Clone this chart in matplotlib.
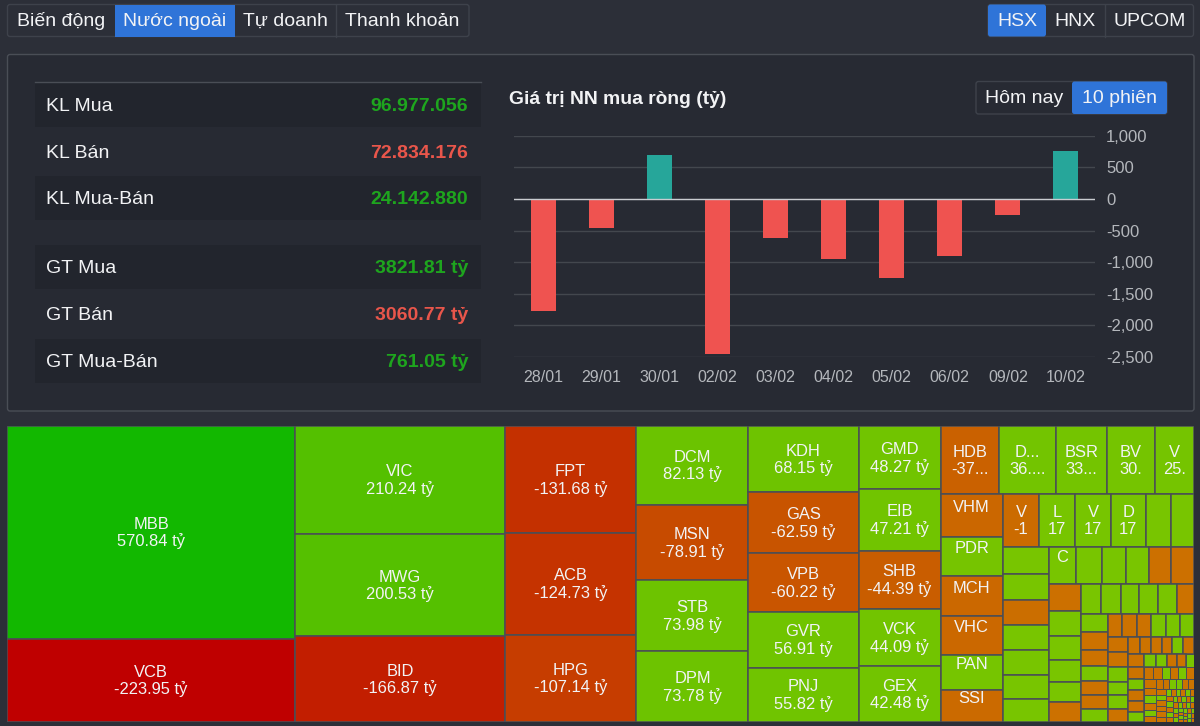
import numpy as np
import matplotlib
matplotlib.use("Agg")
import matplotlib.pyplot as plt
from matplotlib.patches import Rectangle, FancyBboxPatch
from matplotlib.colors import to_rgb

plt.rcParams['font.family'] = ['Liberation Sans', 'DejaVu Sans']

# ---------- data ----------
TABS = ["Biến động", "Nước ngoài", "Tự doanh", "Thanh khoản"]
EXCHANGES = ["HSX", "HNX", "UPCOM"]
RANGES = ["Hôm nay", "10 phiên"]

STAT_LABELS = ["KL Mua", "KL Bán", "KL Mua-Bán", "GT Mua", "GT Bán", "GT Mua-Bán"]
STAT_VALUES = ["96.977.056", "72.834.176", "24.142.880", "3821.81 tỷ", "3060.77 tỷ", "761.05 tỷ"]
STAT_SIGNS = [1, -1, 1, 1, -1, 1]

CHART_TITLE = "Giá trị NN mua ròng (tỷ)"
DATES = ["28/01", "29/01", "30/01", "02/02", "03/02", "04/02", "05/02", "06/02", "09/02", "10/02"]
NET_VALUES = [-1774, -458, 695, -2453, -621, -953, -1247, -910, -247, 761.05]
Y_TICKS = [1000, 500, 0, -500, -1000, -1500, -2000, -2500]

TM_VALUES = [
    570.84, -223.95,
    210.24, 200.53, -166.87,
    -131.68, -124.73, -107.14,
    82.13, -78.91, 73.98, 73.78,
    68.15, -62.59, -60.22, 56.91, 55.82,
    48.27, 47.21, -44.39, 44.09, 42.48,
    -37.0, 36.0, 33.0, 30.0, 25.0,
    -24.6, 23.0, -22.8, -22.4, 20.6, -18.4,
    -17.9, 17.6, 17.4, 17.1, 12.3, 11.3,
    11.5, 11.1, -10.9, 10.6, 10.6, 10.2, 9.8,
    9.7, 9.1, 8.4, 8.0, -7.9, -7.9,
    -8.0, 7.6, 7.2, 6.6, 6.2, -6.0,
    5.6, 5.3, 5.2, 5.1, 5.1, -4.8,
    4.5, -4.35, -4.0, 3.7, -3.55, -3.4, 3.35,
    -3.1, -3.05, -3.05, 3.0, 3.0, 3.0,
    -3.0, -2.85, 2.8, 2.65, 2.6, -2.5,
    -1.9, -1.85, -1.85, -1.8, 1.8, -1.8,
    -1.85, -1.8, 1.7, -1.65, -1.6, 1.5,
    1.4, 1.3, -1.25, -1.1, 0.9,
    -1.0, -0.95, 0.9, -0.88, 0.86, -0.83,
    -0.95, -0.85, 0.8, -0.75, 0.7, -0.65,
    -0.6, -0.58, 0.57, 0.56, -0.55, -0.54,
    -0.55, 0.53, -0.52, -0.51, -0.5, -0.48,
    0.34, -0.33, 0.33, -0.32, 0.32, -0.31,
    -0.33, 0.33, -0.32, 0.31, -0.31,
    0.27, -0.26, 0.26, -0.24, 0.24,
    -0.27, 0.26, -0.24, 0.24,
    0.22, -0.21, 0.2, -0.19,
    0.17, -0.16, 0.16, -0.15,
    0.18, -0.17, 0.16,
    -0.13, 0.12, -0.11,
    0.17, -0.16,
    0.14, -0.12,
]
TM_NAMES = ["MBB", "VCB", "VIC", "MWG", "BID", "FPT", "ACB", "HPG", "DCM", "MSN", "STB", "DPM",
            "KDH", "GAS", "VPB", "GVR", "PNJ", "GMD", "EIB", "SHB", "VCK", "GEX",
            "HDB", "D...", "BSR", "BV", "V", "VHM", "PDR", "MCH", "VHC", "PAN", "SSI",
            "V", "L", "V", "D", "", "", "", "", "", "", "", "", "", "C"]
TM_TEXTS = ["570.84 tỷ", "-223.95 tỷ", "210.24 tỷ", "200.53 tỷ", "-166.87 tỷ", "-131.68 tỷ",
            "-124.73 tỷ", "-107.14 tỷ", "82.13 tỷ", "-78.91 tỷ", "73.98 tỷ", "73.78 tỷ",
            "68.15 tỷ", "-62.59 tỷ", "-60.22 tỷ", "56.91 tỷ", "55.82 tỷ", "48.27 tỷ", "47.21 tỷ",
            "-44.39 tỷ", "44.09 tỷ", "42.48 tỷ", "-37...", "36....", "33...", "30.", "25.",
            "", "", "", "", "", "", "-1", "17", "17", "17"]
# strip orientation and number of cells of each squarified strip
TM_STRIPS = [('c', 2), ('c', 3), ('c', 3), ('c', 4), ('c', 5), ('c', 5), ('r', 5), ('c', 6), ('r', 6),
             ('c', 7), ('r', 6), ('c', 6), ('r', 6), ('c', 7), ('r', 6), ('c', 6), ('r', 6), ('c', 6),
             ('r', 5), ('r', 6), ('c', 6), ('r', 6), ('c', 6), ('r', 6), ('c', 5), ('r', 5), ('c', 4),
             ('r', 4), ('c', 4), ('r', 3), ('c', 3), ('r', 2), ('r', 2)]

# ---------- styles ----------
W, H = 1200, 726
PAGE = '#2c2f38'
PANEL = '#272a33'
ROW = '#22252d'
BORDER = '#4a4e56'
BTN_BORDER = '#3e424b'
BLUE = '#2f74d8'
WHITE = '#f2f3f5'
GREEN = '#1ea51e'
RED = '#e9564b'
BAR_UP = '#26a69a'
BAR_DOWN = '#ef5350'
GRID = '#43474e'
AXTXT = '#b4b7bc'
TM_EDGE = '#4a4e55'

fig = plt.figure(figsize=(12, 7.26), dpi=100, facecolor=PAGE)
ui = fig.add_axes([0, 0, 1, 1], zorder=0)
ui.set_xlim(0, W)
ui.set_ylim(H, 0)
ui.axis('off')


def round_box(x0, y0, x1, y1, fc, ec='none', lw=1.0, r=2.5, z=1):
    ui.add_patch(FancyBboxPatch((x0 + r, y0 + r), x1 - x0 - 2 * r, y1 - y0 - 2 * r,
                                boxstyle=f"round,pad={r},rounding_size={r}",
                                fc=fc, ec=ec, lw=lw, zorder=z))


def button_group(x0, y0, x1, y1, edges, labels, active, size=14):
    round_box(x0, y0, x1, y1, 'none', BTN_BORDER, 1.0, z=3)
    for i, lab in enumerate(labels):
        a, b = edges[i], edges[i + 1]
        if i == active:
            round_box(a, y0, b, y1, BLUE, z=4) if i in (0, len(labels) - 1) else \
                ui.add_patch(Rectangle((a, y0), b - a, y1 - y0, fc=BLUE, ec='none', zorder=4))
        elif i > 0 and i - 1 != active:
            ui.plot([a, a], [y0, y1], color=BTN_BORDER, lw=1.0, zorder=3)
        ui.text((a + b) / 2, (y0 + y1) / 2 + 1, lab, color=WHITE, fontsize=size,
                ha='center', va='center', zorder=5)


button_group(7.5, 4.5, 469, 36.5, [7.5, 115, 235, 336, 469], TABS, 1)
button_group(988, 4.5, 1193.5, 36.5, [988, 1046, 1105, 1193.5], EXCHANGES, 0)

# panel
round_box(7.5, 54.5, 1194, 411, PANEL, BORDER, 1.0, z=1)
button_group(976, 81.5, 1167, 114, [976, 1072, 1167], RANGES, 1)

# statistics table
ui.plot([35, 481], [82, 82], color=BORDER, lw=1.0, zorder=3)
row_centers = [105, 152, 198, 267, 314, 361]
for i, (lab, val, sgn, yc) in enumerate(zip(STAT_LABELS, STAT_VALUES, STAT_SIGNS, row_centers)):
    if i % 3 != 1:
        ui.add_patch(Rectangle((35, yc - 22), 446, 44, fc=ROW, ec='none', zorder=2))
    ui.text(45.5, yc + 1.5, lab, color=WHITE, fontsize=14, ha='left', va='center', zorder=5)
    ui.text(468, yc + 1.5, val, color=GREEN if sgn > 0 else RED, fontsize=14, fontweight='bold',
            ha='right', va='center', zorder=5)

ui.text(509, 100, CHART_TITLE, color=WHITE, fontsize=13.9, fontweight='bold',
        ha='left', va='center', zorder=5)

# ---------- bar chart ----------
ax = fig.add_axes([514 / W, 1 - 357 / H, (1095 - 514) / W, (357 - 135.7) / H], zorder=2)
ax.set_facecolor('none')
xs = np.arange(len(DATES))
ax.bar(xs, NET_VALUES, width=0.43, color=[BAR_UP if v > 0 else BAR_DOWN for v in NET_VALUES], zorder=3)
ax.set_xlim(-0.5, len(DATES) - 0.5)
ax.set_ylim(-2500, 1000)
ax.set_yticks(Y_TICKS)
ax.set_yticklabels([f"{t:,}" for t in Y_TICKS])
ax.set_xticks(xs)
ax.set_xticklabels(DATES)
ax.yaxis.tick_right()
ax.tick_params(axis='both', length=0, labelcolor=AXTXT)
ax.tick_params(axis='y', pad=8, labelsize=12)
ax.tick_params(axis='x', pad=9, labelsize=11.5)
ax.grid(axis='y', color=GRID, lw=1.0, zorder=1)
ax.axhline(0, color='#c9ccd1', lw=1.0, zorder=4)
for s in ax.spines.values():
    s.set_visible(False)

# ---------- treemap ----------
TX0, TY0, TX1, TY1 = 7.0, 426.0, 1194.0, 722.0
tm = fig.add_axes([TX0 / W, 1 - TY1 / H, (TX1 - TX0) / W, (TY1 - TY0) / H], zorder=2)
tm.set_xlim(TX0, TX1)
tm.set_ylim(TY1, TY0)
tm.axis('off')

POS0 = np.array(to_rgb('#7ac500'))
POS1 = np.array(to_rgb('#12b800'))
NEG0 = np.array(to_rgb('#cc7400'))
NEG1 = np.array(to_rgb('#bf0000'))


def cell_colour(v):
    if v >= 0:
        return tuple(POS0 + (POS1 - POS0) * min(v / 570.84, 1))
    return tuple(NEG0 + (NEG1 - NEG0) * min(-v / 223.95, 1))


mags = np.abs(np.array(TM_VALUES, dtype=float))
names = TM_NAMES + [""] * (len(mags) - len(TM_NAMES))
texts = TM_TEXTS + [""] * (len(mags) - len(TM_TEXTS))
x0, y0, x1, y1 = TX0, TY0, TX1, TY1
remaining = mags.sum()
k = 0
for orient, n in TM_STRIPS:
    if k >= len(mags):
        break
    part = mags[k:k + n]
    frac = part.sum() / remaining if remaining > 0 else 1
    if orient == 'c':
        w = (x1 - x0) * frac
        cells = []
        y = y0
        for m in part:
            h = (y1 - y0) * m / part.sum()
            cells.append((x0, y, w, h))
            y += h
        x0 += w
    else:
        h = (y1 - y0) * frac
        cells = []
        x = x0
        for m in part:
            wd = (x1 - x0) * m / part.sum()
            cells.append((x, y0, wd, h))
            x += wd
        y0 += h
    for j, (cx, cy, cw, ch) in enumerate(cells):
        idx = k + j
        tm.add_patch(Rectangle((cx, cy), cw, ch, fc=cell_colour(TM_VALUES[idx]), ec=TM_EDGE,
                               lw=1.1 if mags[idx] > 1 else 0.7))
        if names[idx]:
            tm.text(cx + cw / 2, cy + ch / 2 - 8, names[idx], color=WHITE, fontsize=11.9,
                    ha='center', va='center')
        if texts[idx]:
            tm.text(cx + cw / 2, cy + ch / 2 + 9, texts[idx], color=WHITE, fontsize=11.9,
                    ha='center', va='center')
    remaining -= part.sum()
    k += n

fig.savefig("out.png", dpi=100, facecolor=PAGE)
